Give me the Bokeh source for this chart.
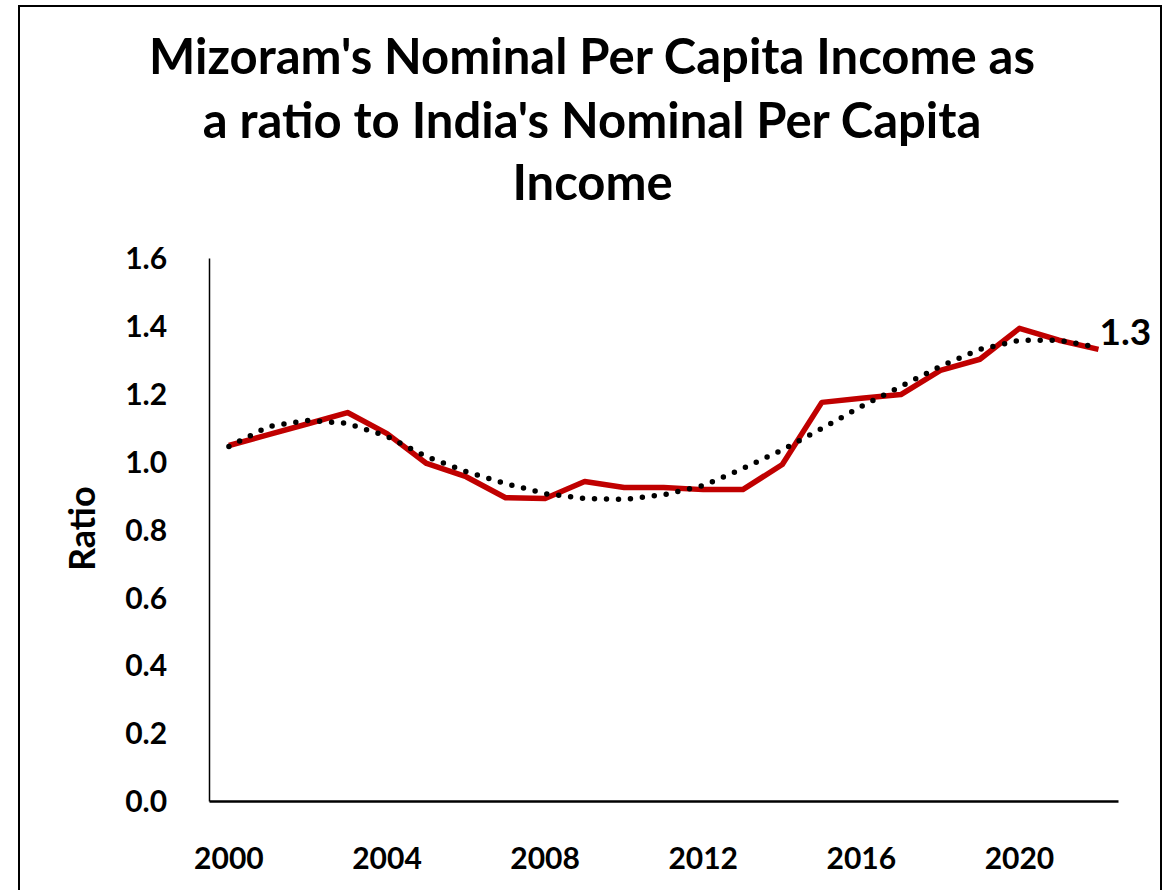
import math
from bokeh.plotting import figure
from bokeh.models import Label, FixedTicker, Range1d, PrintfTickFormatter
from bokeh.embed import file_html
from bokeh.resources import INLINE

# ---- data ----
years = list(range(2000, 2023))
ratio = [1.048, 1.080, 1.112, 1.145, 1.083, 0.995, 0.956, 0.894, 0.892, 0.942,
         0.924, 0.924, 0.918, 0.918, 0.992, 1.175, 1.187, 1.198, 1.269, 1.302,
         1.393, 1.358, 1.331]
trend = [1.045, 1.104, 1.122, 1.113, 1.075, 1.015, 0.971, 0.936, 0.906, 0.892,
         0.889, 0.903, 0.930, 0.980, 1.035, 1.098, 1.163, 1.222, 1.281, 1.331,
         1.358, 1.358, 1.337]
x_ticks = [2000, 2004, 2008, 2012, 2016, 2020]
y_ticks = [0.0, 0.2, 0.4, 0.6, 0.8, 1.0, 1.2, 1.4, 1.6]
title_lines = ["Mizoram's Nominal Per Capita Income as",
               "a ratio to India's Nominal Per Capita",
               "Income"]
y_label = "Ratio"

FONT = "Lato"
RED = "#C00000"

# axis extents (the frame covers the whole card so that texts fit inside it)
X_AXIS = (1999.5, 2022.5)
Y_AXIS = (0.0, 1.6)

p = figure(width=1144, height=885,
           x_range=Range1d(1994.727, 2023.67), y_range=Range1d(-0.2686, 2.338),
           output_backend="svg", toolbar_location=None,
           min_border_left=0, min_border_right=0,
           min_border_top=0, min_border_bottom=0)
p.margin = (5, 0, 0, 18)
p.styles = {"border-left": "2px solid black",
            "border-top": "2px solid black",
            "border-right": "2px solid black",
            "box-sizing": "border-box"}

p.xgrid.visible = False
p.ygrid.visible = False
p.outline_line_color = None
p.background_fill_color = "white"
p.border_fill_color = "white"

# x axis, drawn at y = 0
p.xaxis.fixed_location = Y_AXIS[0]
p.xaxis.bounds = X_AXIS
p.xaxis.ticker = FixedTicker(ticks=x_ticks)
p.xaxis.major_tick_line_color = None
p.xaxis.minor_tick_line_color = None
p.xaxis.axis_line_color = "black"
p.xaxis.axis_line_width = 2.5
p.xaxis.major_label_text_font = FONT
p.xaxis.major_label_text_font_style = "bold"
p.xaxis.major_label_text_font_size = "30px"
p.xaxis.major_label_text_color = "black"
p.xaxis.major_label_standoff = 40

# y axis, drawn at the start of the category span
p.yaxis.fixed_location = X_AXIS[0]
p.yaxis.bounds = Y_AXIS
p.yaxis.ticker = FixedTicker(ticks=y_ticks)
p.yaxis.formatter = PrintfTickFormatter(format="%.1f")
p.yaxis.major_tick_line_color = None
p.yaxis.minor_tick_line_color = None
p.yaxis.axis_line_color = "black"
p.yaxis.axis_line_width = 1.5
p.yaxis.major_label_text_font = FONT
p.yaxis.major_label_text_font_style = "bold"
p.yaxis.major_label_text_font_size = "30px"
p.yaxis.major_label_text_color = "black"
p.yaxis.major_label_standoff = 36

# y axis title
p.add_layout(Label(x=1996.25, y=0.803, text=y_label, angle=math.pi / 2,
                   text_align="center", text_baseline="middle",
                   text_font=FONT, text_font_style="bold",
                   text_font_size="36px", text_color="black"))

# series
p.line(years, ratio, line_color=RED, line_width=5.5, line_join="round")
p.line(years, trend, line_color="black", line_width=5.5,
       line_dash="0 12", line_cap="round")

# end data label
p.add_layout(Label(x=years[-1], y=ratio[-1], text=f"{ratio[-1]:.1f}",
                   x_offset=1, y_offset=17, text_baseline="middle",
                   text_align="left", text_font=FONT, text_font_style="bold",
                   text_font_size="37px", text_color="black"))

# title lines
title_y = [2.197, 2.009, 1.826]
for txt, ty in zip(title_lines, title_y):
    p.add_layout(Label(x=2009.2, y=ty, text=txt, text_align="center",
                       text_baseline="alphabetic", text_font=FONT,
                       text_font_style="bold", text_font_size="49px",
                       text_color="black"))

open("out.html", "w").write(file_html(p, INLINE))
